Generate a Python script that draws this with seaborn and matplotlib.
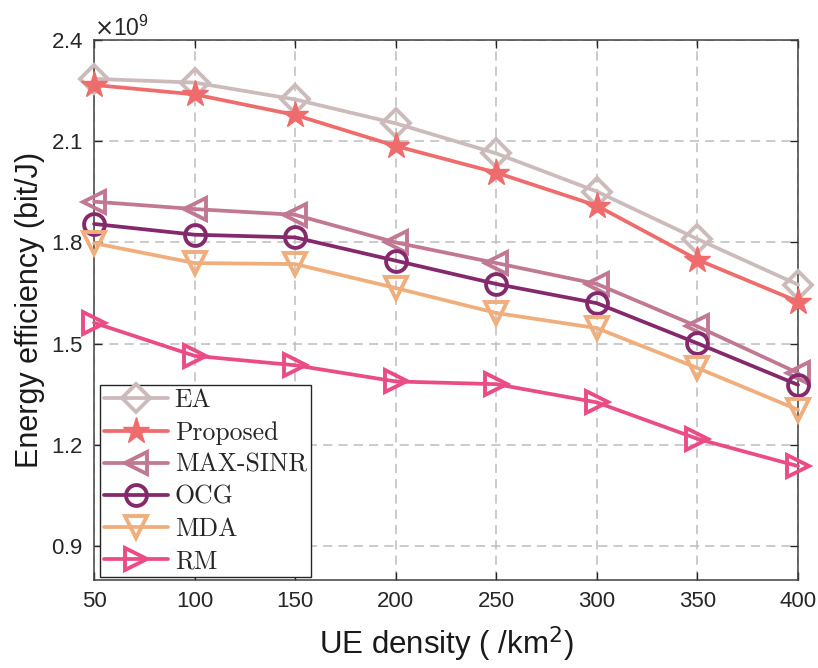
import pandas as pd
import matplotlib.pyplot as plt
import matplotlib.ticker as mticker
import seaborn as sns

# UE density (per km^2) and energy efficiency (x 1e9 bit/J)
density = [50, 100, 150, 200, 250, 300, 350, 400]
ea = [2.285, 2.274, 2.224, 2.153, 2.064, 1.951, 1.810, 1.675]
proposed = [2.267, 2.239, 2.178, 2.086, 2.007, 1.909, 1.749, 1.625]
max_sinr = [1.921, 1.899, 1.882, 1.800, 1.739, 1.677, 1.551, 1.413]
ocg = [1.855, 1.823, 1.815, 1.746, 1.677, 1.620, 1.501, 1.378]
mda = [1.798, 1.739, 1.736, 1.665, 1.591, 1.546, 1.428, 1.304]
rm = [1.562, 1.464, 1.436, 1.388, 1.380, 1.326, 1.218, 1.137]

series = {
    "EA": ea,
    "Proposed": proposed,
    "MAX-SINR": max_sinr,
    "OCG": ocg,
    "MDA": mda,
    "RM": rm,
}
colors = {
    "EA": "#cdbbbb",
    "Proposed": "#ef6c6c",
    "MAX-SINR": "#c17892",
    "OCG": "#842a6c",
    "MDA": "#efae7c",
    "RM": "#ea4c86",
}
markers = {"EA": "D", "Proposed": "*", "MAX-SINR": "<", "OCG": "o", "MDA": "v", "RM": ">"}
msizes = {"EA": 14, "Proposed": 20, "MAX-SINR": 16, "OCG": 15, "MDA": 16, "RM": 16}

rows = []
for name, vals in series.items():
    for d, v in zip(density, vals):
        rows.append({"UE density": d, "EE": v * 1e9, "Scheme": name})
df = pd.DataFrame(rows)

sns.set_style("ticks")
plt.rcParams["font.family"] = ["Liberation Sans", "DejaVu Sans"]

fig = plt.figure(figsize=(8.18, 6.68), dpi=100)
ax = fig.add_axes([0.115, 0.132, 0.8606, 0.808])

for name in series:
    sub = df[df["Scheme"] == name]
    filled = name == "Proposed"
    sns.lineplot(
        data=sub, x="UE density", y="EE", ax=ax,
        color=colors[name], marker=markers[name], markersize=msizes[name],
        markerfacecolor=colors[name] if filled else "none",
        markeredgecolor=colors[name], markeredgewidth=2.8 if not filled else 1,
        linewidth=2.7, label=name, clip_on=False, zorder=3,
    )

ax.set_xlim(50, 400)
ax.set_ylim(0.8e9, 2.4e9)
ax.set_xticks(density)
ax.set_yticks([0.9e9, 1.2e9, 1.5e9, 1.8e9, 2.1e9, 2.4e9])
fmt = mticker.ScalarFormatter(useMathText=True)
fmt.set_powerlimits((0, 0))
ax.yaxis.set_major_formatter(fmt)
ax.yaxis.get_offset_text().set_fontsize(16.5)
ax.yaxis.get_offset_text().set_color("#262626")

ax.grid(True, linestyle=(0, (6, 4)), color="#bdbdbd", linewidth=1.1)
ax.tick_params(direction="in", length=6, width=1, labelsize=16, colors="#262626",
               top=True, right=True, pad=8)
for sp in ax.spines.values():
    sp.set_color("#404040")
    sp.set_linewidth(1.1)

ax.set_xlabel("UE density ( /km$^2$)", fontsize=22.5, color="#1a1a1a", labelpad=9)
ax.set_ylabel("Energy efficiency (bit/J)", fontsize=22, color="#1a1a1a", labelpad=4)

leg = ax.legend(
    loc="lower left", bbox_to_anchor=(0.005, 0.0), prop={"family": "cmr10", "size": 18.5},
    handlelength=2.5, handletextpad=0.25, labelspacing=0.33, borderpad=0.15,
    borderaxespad=0.1, fancybox=False, framealpha=1, edgecolor="#262626",
)
leg.get_frame().set_linewidth(1.0)

plt.savefig("out.png", dpi=100)
